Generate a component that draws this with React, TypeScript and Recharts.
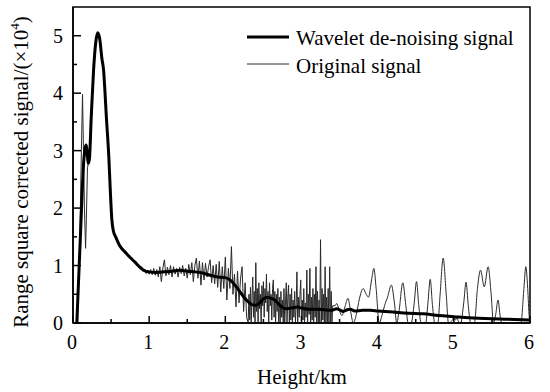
import React from 'react';
import { LineChart, Line, XAxis, YAxis, ReferenceArea } from 'recharts';

const FONT = "'Liberation Serif', 'Times New Roman', Times, 'DejaVu Serif', serif";
const textStyle = { fontFamily: FONT };

// Axis ticks (major every 1 on x / 1 on y, minor every 0.5)
const xTicks = [0, 0.5, 1, 1.5, 2, 2.5, 3, 3.5, 4, 4.5, 5, 5.5, 6];
const yTicks = [0, 0.5, 1, 1.5, 2, 2.5, 3, 3.5, 4, 4.5, 5];

// Wavelet de-noising signal (height km, value x10^4)
const waveletKm = [
  0.05, 0.1, 0.14, 0.16, 0.175, 0.19, 0.2, 0.215, 0.24, 0.27, 0.3, 0.325, 0.35, 0.38, 0.4, 0.44, 0.47,
  0.49, 0.51, 0.53, 0.56, 0.62, 0.68, 0.75, 0.82, 0.88, 0.94, 1.0, 1.1, 1.2, 1.3, 1.4, 1.5, 1.6, 1.7,
  1.8, 1.9, 2.0, 2.05, 2.1, 2.15, 2.2, 2.25, 2.3, 2.35, 2.4, 2.45, 2.5, 2.55, 2.6, 2.65, 2.7, 2.75, 2.8,
  2.9, 2.95, 3.0, 3.1, 3.2, 3.3, 3.37, 3.42, 3.46, 3.5, 3.55, 3.6, 3.64, 3.7, 3.8, 3.9, 4.0, 4.2, 4.4,
  4.6, 4.8, 5.0, 5.2, 5.4, 5.6, 5.8, 6.0,
];
const waveletVal = [
  0, 1.6, 2.8, 3.05, 3.1, 2.9, 2.78, 2.85, 3.6, 4.4, 4.9, 5.05, 4.95, 4.6, 4.42, 3.54, 2.9,
  2.3, 1.8, 1.6, 1.5, 1.33, 1.24, 1.14, 1.05, 0.97, 0.91, 0.89, 0.88, 0.89, 0.9, 0.92, 0.9, 0.89, 0.87,
  0.83, 0.8, 0.79, 0.76, 0.7, 0.62, 0.53, 0.44, 0.37, 0.32, 0.31, 0.35, 0.42, 0.45, 0.43, 0.4, 0.33, 0.27, 0.25,
  0.27, 0.28, 0.26, 0.24, 0.24, 0.23, 0.22, 0.23, 0.25, 0.23, 0.2, 0.23, 0.24, 0.21, 0.22, 0.22, 0.21, 0.19, 0.17,
  0.16, 0.13, 0.11, 0.09, 0.08, 0.07, 0.06, 0.05,
];

// Original signal: near-ground part
const originalHeadKm = [
  0.06, 0.09, 0.11, 0.125, 0.135, 0.15, 0.165, 0.175, 0.19, 0.21, 0.23, 0.25, 0.28, 0.31, 0.33, 0.36,
  0.4, 0.44, 0.47, 0.49, 0.51, 0.53,
];
const originalHeadVal = [
  0, 1.5, 3.0, 3.98, 3.2, 2.0, 1.3, 1.8, 2.7, 2.85, 3.1, 3.8, 4.55, 5.0, 5.04, 4.85,
  4.4, 3.55, 2.9, 2.3, 1.8, 1.62,
];

// Original signal: noisy part, 0.56 km to 2.30 km every 0.02 km
const noisyCoarseStart = 0.56;
const noisyCoarseStep = 0.02;
const noisyCoarseVal = [
  1.47, 1.42, 1.38, 1.36, 1.31, 1.29, 1.25, 1.24, 1.18, 1.17, 1.12, 1.13, 1.06, 1.08, 1.0, 1.02, 0.95, 0.98,
  0.9, 0.94, 0.86, 0.92, 0.85, 0.93, 0.84, 0.95, 0.83, 0.93, 0.8, 0.98, 0.72, 0.96, 1.1, 0.82, 0.97, 0.84,
  1.0, 0.8, 0.98, 0.85, 0.95, 0.8, 0.97, 0.86, 1.0, 0.82, 0.95, 0.78, 1.02, 0.84, 1.05, 0.72, 1.0, 1.13,
  0.78, 1.08, 0.66, 1.05, 0.75, 1.04, 0.8, 0.98, 1.1, 0.7, 1.0, 0.68, 1.02, 0.62, 1.07, 0.54, 0.98, 0.6,
  1.15, 0.4, 0.95, 0.6, 1.33, 0.5, 0.85, 0.28, 0.9, 0.35, 0.78, 0.98, 0.2, 0.7, 0.1, 0.0,
];

// Original signal: very noisy part, 2.31 km to 3.41 km every 0.01 km
const noisyFineStart = 2.31;
const noisyFineStep = 0.01;
const noisyFineVal = [
  0.5, 0.05, 0.62, 0.0, 0.45, 0.8, 0.1, 0.55, 0.0, 1.05, 0.2, 0.6, 0.0, 0.7, 0.25, 0.5, 0.0, 0.65, 0.3,
  0.72, 0.1, 0.6, 0.35, 0.85, 0.2, 0.55, 0.0, 0.7, 0.3, 0.5, 0.05, 0.6, 0.75, 0.1, 0.55, 0.0, 0.5, 0.2,
  0.6, 0.0, 0.45, 0.0, 0.55, 0.1, 0.4, 0.0, 0.6, 0.0, 0.35, 0.7, 0.0, 0.45, 0.66, 0.0, 0.5, 0.05, 0.6,
  0.0, 0.4, 0.1, 0.55, 0.0, 0.3, 0.89, 0.0, 0.45, 0.1, 0.5, 0.75, 0.0, 0.4, 0.05, 0.6, 0.0, 0.35, 0.1,
  0.92, 0.0, 0.5, 0.15, 0.95, 0.0, 0.45, 0.05, 0.6, 0.0, 0.5, 0.1, 0.98, 0.0, 0.55, 0.0, 0.4, 0.0, 1.45,
  0.0, 0.6, 0.05, 0.5, 0.0, 0.98, 0.0, 0.45, 0.0, 0.6, 0.0, 0.98, 0.0, 0.55, 0.0, 0.3,
];

// Original signal: upper part (smooth oscillations)
const originalTailKm = [
  3.41, 3.44, 3.46, 3.49, 3.53, 3.57, 3.61, 3.645, 3.68, 3.72, 3.76, 3.81, 3.85, 3.88, 3.92, 3.95, 3.98,
  4.02, 4.06, 4.09, 4.13, 4.18, 4.22, 4.25, 4.28, 4.33, 4.37, 4.4, 4.44, 4.48, 4.51, 4.54, 4.57, 4.63,
  4.66, 4.69, 4.72, 4.75, 4.79, 4.82, 4.86, 4.9, 4.93, 4.98, 5.0, 5.02, 5.04, 5.06, 5.09, 5.13, 5.16,
  5.19, 5.22, 5.27, 5.31, 5.35, 5.4, 5.45, 5.49, 5.52, 5.55, 5.58, 5.61, 5.63, 5.88, 5.92, 5.945, 5.97,
  5.99, 6.0,
];
const originalTailVal = [
  0.3, 0.3, 0.34, 0.25, 0.13, 0.28, 0.43, 0.2, 0.0, 0.15, 0.42, 0.6, 0.5, 0.45, 0.75, 0.95, 0.6,
  0.0, 0.15, 0.3, 0.45, 0.66, 0.35, 0.0, 0.2, 0.7, 0.3, 0.0, 0.0, 0.35, 0.72, 0.3, 0.0, 0.0,
  0.35, 0.76, 0.3, 0.0, 0.0, 0.5, 1.13, 0.5, 0.0, 0.05, 0.1, 0.05, 0.09, 0.03, 0.0, 0.35, 0.71,
  0.3, 0.0, 0.0, 0.6, 0.92, 0.63, 0.98, 0.5, 0.0, 0.15, 0.4, 0.1, 0.0, 0.0, 0.6, 0.98, 0.6,
  0.1, 0.0,
];

const zip = (km: number[], v: number[]) => km.map((k, i) => ({ km: k, v: v[i] }));
const grid = (start: number, step: number, v: number[]) =>
  v.map((val, i) => ({ km: +(start + i * step).toFixed(3), v: val }));

const waveletData = zip(waveletKm, waveletVal);
const originalNoisyData = [
  ...zip(originalHeadKm, originalHeadVal),
  ...grid(noisyCoarseStart, noisyCoarseStep, noisyCoarseVal),
  ...grid(noisyFineStart, noisyFineStep, noisyFineVal),
];
const originalSmoothData = zip(originalTailKm, originalTailVal);

const XTick = (props: any) => {
  const { x, y, payload } = props;
  const v = payload.value as number;
  const major = Number.isInteger(v);
  return (
    <g>
      <line x1={x} y1={y} x2={x} y2={y - (major ? 7 : 4)} stroke="#000" strokeWidth={1.5} />
      {major && (
        <text x={x - 1} y={y + 26} textAnchor="middle" style={textStyle} fontSize={20} fill="#000">
          {v}
        </text>
      )}
    </g>
  );
};

const YTick = (props: any) => {
  const { x, y, payload } = props;
  const v = payload.value as number;
  const major = Number.isInteger(v);
  return (
    <g>
      <line x1={x} y1={y} x2={x + (major ? 8 : 4)} y2={y} stroke="#000" strokeWidth={1.5} />
      {major && (
        <text x={x - 10} y={y + 7} textAnchor="end" style={textStyle} fontSize={20} fill="#000">
          {v}
        </text>
      )}
    </g>
  );
};

const XTitle = () => (
  <text x={302} y={384} textAnchor="middle" style={textStyle} fontSize={21} fill="#000">
    Height/km
  </text>
);

const YTitle = () => (
  <text
    x={28}
    y={172}
    textAnchor="middle"
    style={textStyle}
    fontSize={21}
    fill="#000"
    transform="rotate(-90, 28, 172)"
  >
    Range square corrected signal/(×10
    <tspan fontSize={13} dy={-9}>4</tspan>
    <tspan dy={9}>)</tspan>
  </text>
);

export default function App() {
  return (
    <div
      style={{
        position: 'absolute',
        left: 0,
        top: 0,
        width: 550,
        height: 392,
        background: '#fff',
        fontFamily: FONT,
      }}
    >
      <LineChart width={550} height={392} margin={{ top: 7, right: 20, left: 13, bottom: 29 }}>
        <XAxis
          type="number"
          dataKey="km"
          domain={[0, 6]}
          ticks={xTicks}
          interval={0}
          tickSize={0}
          tickMargin={0}
          tick={<XTick />}
          tickLine={false}
          axisLine={{ stroke: '#000', strokeWidth: 1.5 }}
          allowDataOverflow
          height={40}
          label={<XTitle />}
        />
        <YAxis
          type="number"
          dataKey="v"
          domain={[0, 5.5]}
          ticks={yTicks}
          interval={0}
          tickSize={0}
          tickMargin={0}
          tick={<YTick />}
          tickLine={false}
          axisLine={{ stroke: '#000', strokeWidth: 1.5 }}
          allowDataOverflow
          width={60}
          label={<YTitle />}
        />
        <ReferenceArea
          x1={0}
          x2={6}
          y1={0}
          y2={5.5}
          fill="none"
          fillOpacity={0}
          stroke="#000"
          strokeWidth={1.5}
          ifOverflow="visible"
        />
        <Line
          data={originalNoisyData}
          dataKey="v"
          type="linear"
          stroke="#2a2a2a"
          strokeWidth={1}
          dot={false}
          isAnimationActive={false}
        />
        <Line
          data={originalSmoothData}
          dataKey="v"
          type="monotone"
          stroke="#2a2a2a"
          strokeWidth={1}
          dot={false}
          isAnimationActive={false}
        />
        <Line
          data={waveletData}
          dataKey="v"
          type="monotone"
          stroke="#000"
          strokeWidth={3}
          dot={false}
          isAnimationActive={false}
        />
      </LineChart>
      <svg
        width={550}
        height={392}
        style={{ position: 'absolute', left: 0, top: 0, pointerEvents: 'none' }}
      >
        <line x1={247} y1={37} x2={289} y2={37} stroke="#000" strokeWidth={3} />
        <text x={296} y={45} style={textStyle} fontSize={21} fill="#000">
          Wavelet de-noising signal
        </text>
        <line x1={247} y1={64} x2={289} y2={64} stroke="#2a2a2a" strokeWidth={1} />
        <text x={296} y={73} style={textStyle} fontSize={21} fill="#000">
          Original signal
        </text>
      </svg>
    </div>
  );
}
